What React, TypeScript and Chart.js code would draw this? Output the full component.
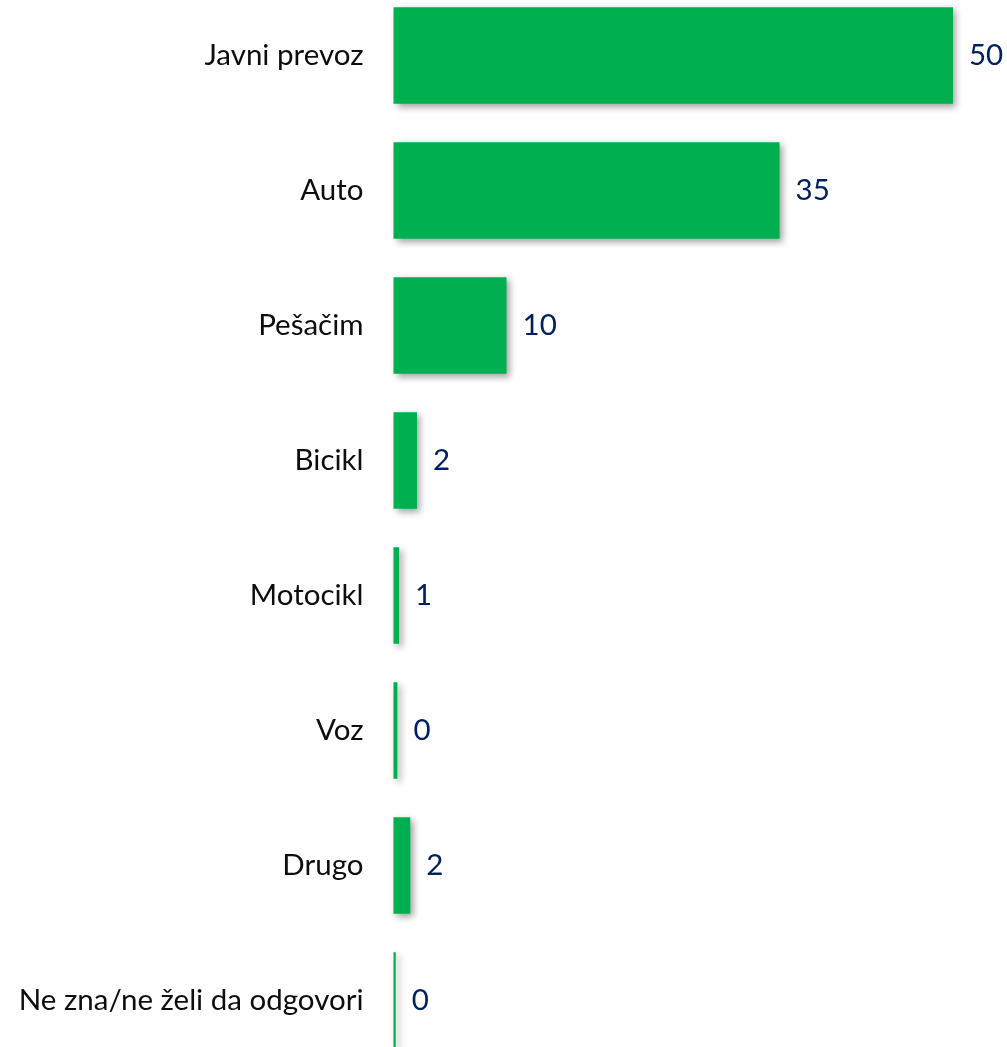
import React, { useEffect, useRef } from "react";
import { Chart, registerables } from "chart.js";

Chart.register(...registerables);

const categories = [
  "Javni prevoz",
  "Auto",
  "Pešačim",
  "Bicikl",
  "Motocikl",
  "Voz",
  "Drugo",
  "Ne zna/ne želi da odgovori",
];
const values = [50, 34.5, 10.1, 2.1, 0.5, 0.35, 1.5, 0.2];
const valueLabels = ["50", "35", "10", "2", "1", "0", "2", "0"];

const FONT = "Lato";
const FONT_SIZE = 29.5;

const shadowPlugin = {
  id: "barShadow",
  beforeDatasetsDraw(chart: any) {
    const ctx = chart.ctx;
    ctx.save();
    ctx.shadowColor = "rgba(0,0,0,0.38)";
    ctx.shadowBlur = 7;
    ctx.shadowOffsetX = 3;
    ctx.shadowOffsetY = 3;
  },
  afterDatasetsDraw(chart: any) {
    chart.ctx.restore();
  },
};

const labelPlugin = {
  id: "valueLabels",
  afterDraw(chart: any) {
    const ctx = chart.ctx;
    const meta = chart.getDatasetMeta(0);
    ctx.save();
    ctx.font = `${FONT_SIZE}px ${FONT}`;
    ctx.fillStyle = "#002060";
    ctx.textAlign = "left";
    ctx.textBaseline = "middle";
    meta.data.forEach((bar: any, i: number) => {
      ctx.fillText(valueLabels[i], bar.x + 16, bar.y);
    });
    ctx.restore();
  },
};

export default function App() {
  const ref = useRef<HTMLCanvasElement>(null);
  useEffect(() => {
    if (!ref.current) return;
    const chart = new Chart(ref.current, {
      type: "bar",
      data: {
        labels: categories,
        datasets: [
          {
            data: values,
            backgroundColor: "#00B050",
            borderWidth: 0,
            barPercentage: 0.715,
            categoryPercentage: 1,
            clip: false as any,
          },
        ],
      },
      options: {
        indexAxis: "y",
        animation: false,
        responsive: false,
        maintainAspectRatio: false,
        layout: { padding: { left: 0, right: 54, top: 0, bottom: 0 } },
        plugins: {
          legend: { display: false },
          tooltip: { enabled: false },
        },
        scales: {
          x: {
            display: false,
            min: 0,
            max: 50,
          },
          y: {
            grid: { display: false, drawTicks: false },
            border: { display: false },
            ticks: {
              padding: 30,
              color: "#0D0D0D",
              font: { family: FONT, size: FONT_SIZE },
            },
            afterFit(scale: any) {
              scale.width = 393.5;
              scale.paddingTop = 0;
              scale.paddingBottom = 0;
            },
          },
        },
      },
      plugins: [shadowPlugin, labelPlugin],
    });
    return () => chart.destroy();
  }, []);
  return (
    <div
      style={{
        position: "fixed",
        left: 0,
        top: 0,
        width: 1007,
        height: 1047,
        overflow: "hidden",
        background: "#ffffff",
      }}
    >
      <canvas
        ref={ref}
        width={1007}
        height={1080}
        style={{ position: "absolute", left: 0, top: -12, width: 1007, height: 1080 }}
      />
    </div>
  );
}
